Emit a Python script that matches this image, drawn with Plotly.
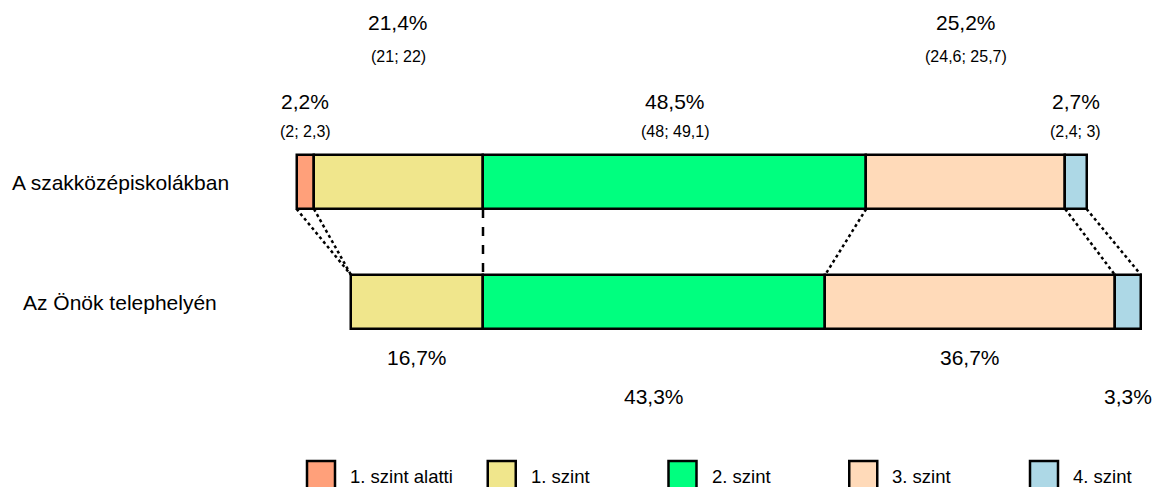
import plotly.graph_objects as go

# ---- data ----
categories = ["A szakközépiskolákban", "Az Önök telephelyén"]
levels = ["1. szint alatti", "1. szint", "2. szint", "3. szint", "4. szint"]
colors = ["#FFA07A", "#F0E68C", "#00FF7F", "#FFDAB9", "#ADD8E6"]
top_values = [2.2, 21.4, 48.5, 25.2, 2.7]
top_ci_low = [2, 21, 48, 24.6, 2.4]
top_ci_high = [2.3, 22, 49.1, 25.7, 3]
bottom_values = [0, 16.7, 43.3, 36.7, 3.3]

rows_y = [1, 0]          # numeric y positions of the two rows
BAR_W = 0.45


def fmt(v):
    s = ("%.1f" % v).rstrip("0").rstrip(".")
    return s.replace(".", ",")


def bases(values):
    # aligned so that the boundary between "1. szint" and "2. szint" sits at 0
    start = -(values[0] + values[1])
    out = []
    c = start
    for v in values:
        out.append(c)
        c += v
    return out, c


top_bases, top_end = bases(top_values)
bot_bases, bot_end = bases(bottom_values)

fig = go.Figure()
for i, lev in enumerate(levels):
    xs, bs, ys = [], [], []
    for vals, bb, ry in ((top_values, top_bases, rows_y[0]), (bottom_values, bot_bases, rows_y[1])):
        if vals[i] > 0:
            xs.append(vals[i]); bs.append(bb[i]); ys.append(ry)
    fig.add_trace(go.Bar(
        x=xs, y=ys, base=bs, orientation="h", width=BAR_W, name=lev,
        marker=dict(color=colors[i], line=dict(color="black", width=2.5)),
        showlegend=False, hoverinfo="skip"))

# connecting lines between segment boundaries
top_bounds = top_bases + [top_end]
bot_bounds = bot_bases + [bot_end]
for k, (xt, xb) in enumerate(zip(top_bounds, bot_bounds)):
    fig.add_shape(type="line", xref="x", yref="y",
                  x0=xt, y0=rows_y[0] - BAR_W / 2, x1=xb, y1=rows_y[1] + BAR_W / 2,
                  line=dict(color="black", width=2.5, dash="dash" if k == 2 else "dot"),
                  layer="below")

FONT = "Liberation Sans, Arial, sans-serif"

# top labels
for i, v in enumerate(top_values):
    cx = top_bases[i] + v / 2
    raised = i % 2 == 1
    fig.add_annotation(x=cx, y=rows_y[0], xref="x", yref="y", text=fmt(v) + "%",
                       showarrow=False, yshift=160 if raised else 81,
                       font=dict(family=FONT, size=21, color="black"))
    fig.add_annotation(x=cx, y=rows_y[0], xref="x", yref="y",
                       text="(%s; %s)" % (fmt(top_ci_low[i]), fmt(top_ci_high[i])),
                       showarrow=False, yshift=126 if raised else 51,
                       font=dict(family=FONT, size=16, color="black"))

# bottom labels
for i, v in enumerate(bottom_values):
    if v <= 0:
        continue
    cx = bot_bases[i] + v / 2
    lowered = i % 2 == 0
    fig.add_annotation(x=cx, y=rows_y[1], xref="x", yref="y", text=fmt(v) + "%",
                       showarrow=False, yshift=-94 if lowered else -55,
                       font=dict(family=FONT, size=21, color="black"))

# category labels
for cat, ry in zip(categories, rows_y):
    fig.add_annotation(x=120 / 1155, y=ry, xref="paper", yref="y", text=cat,
                       showarrow=False, xanchor="center",
                       font=dict(family=FONT, size=21, color="black"))

# legend (drawn manually for large square swatches)
W, H = 1155, 487
for i, (lev, col) in enumerate(zip(levels, colors)):
    x0 = 307 + i * 180.75
    fig.add_shape(type="rect", xref="paper", yref="paper",
                  x0=x0 / W, x1=(x0 + 28) / W, y0=1 - 461 / H, y1=1 - 489 / H,
                  fillcolor=col, line=dict(color="black", width=2.5))
    fig.add_annotation(x=(x0 + 41) / W, y=1 - 476 / H, xref="paper", yref="paper",
                       text=lev, showarrow=False, xanchor="left", yanchor="middle",
                       font=dict(family=FONT, size=18.5, color="black"))

px_per_unit = 7.9
x0_px = 483
fig.update_layout(
    width=W, height=H, margin=dict(l=0, r=0, t=0, b=0),
    plot_bgcolor="white", paper_bgcolor="white",
    barmode="overlay", bargap=0,
    xaxis=dict(range=[-x0_px / px_per_unit, (W - x0_px) / px_per_unit], visible=False, fixedrange=True),
    yaxis=dict(range=[(302 - H) / 120, 302 / 120], visible=False, fixedrange=True),
)

fig.write_html("out.html", config={"displayModeBar": False},
               post_script="document.body.style.margin='0';document.body.style.overflow='hidden';")
